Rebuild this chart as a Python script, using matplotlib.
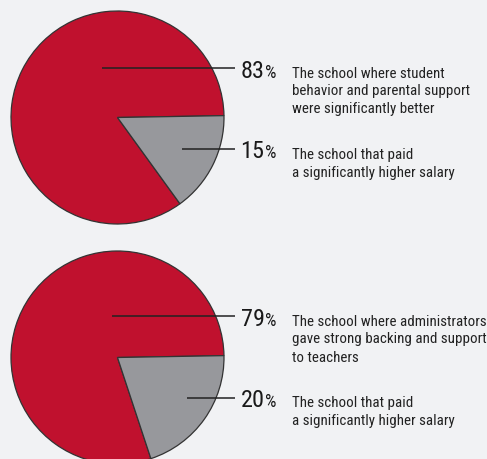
import matplotlib.pyplot as plt
from matplotlib import font_manager

# survey answers, one pie per question
top_values = [83, 15]
top_labels = ["The school where student\nbehavior and parental support\nwere significantly better",
              "The school that paid\na significantly higher salary"]
bottom_values = [79, 20]
bottom_labels = ["The school where administrators\ngave strong backing and support\nto teachers",
                 "The school that paid\na significantly higher salary"]

W, H = 487, 459
red = "#C0112E"
gray = "#97989C"
bg = "#F1F2F4"

# prefer a narrow face for the captions
fam = "Roboto"
for name in ["Roboto Condensed", "Liberation Sans Narrow", "DejaVu Sans Condensed"]:
    try:
        font_manager.findfont(name, fallback_to_default=False)
        fam = name
        break
    except ValueError:
        pass

fig = plt.figure(figsize=(W / 100, H / 100), dpi=100, facecolor=bg)
ax = fig.add_axes([0, 0, 1, 1])
ax.set_facecolor(bg)


def Y(y):
    # work in pixels measured from the top edge
    return H - y


def draw_pie(values, labels, cy, line_ys, line_x0s):
    ax.pie(values, colors=[red, gray], startangle=1, counterclock=True,
           center=(117.5, Y(cy)), radius=106.5,
           wedgeprops=dict(edgecolor="#333333", linewidth=0.9))
    for val, lab, ly, x0 in zip(values, labels, line_ys, line_x0s):
        ax.plot([x0, 235], [Y(ly), Y(ly)], color="#222222", lw=1.1, solid_capstyle="butt")
        base = ly + 9.5
        ax.text(264.5, Y(base), f"{val}", ha="right", va="baseline",
                fontsize=17.5, color="#1a1a1a", family=fam)
        ax.text(265.5, Y(base), "%", ha="left", va="baseline",
                fontsize=13, color="#1a1a1a", family=fam)
        # one text per caption line so the first line sits on the number's baseline
        for i, line in enumerate(lab.split("\n")):
            ax.text(292, Y(base + 18 * i), line, ha="left", va="baseline",
                    fontsize=10.8, color="#222222", family=fam)


draw_pie(top_values, top_labels, 117.5, [68, 149], [102, 182])
draw_pie(bottom_values, bottom_labels, 357.5, [316, 397.5], [112, 187])

ax.set_xlim(0, W)
ax.set_ylim(0, H)
ax.set_aspect("equal")
ax.axis("off")

fig.savefig("out.png", dpi=100, facecolor=bg)
